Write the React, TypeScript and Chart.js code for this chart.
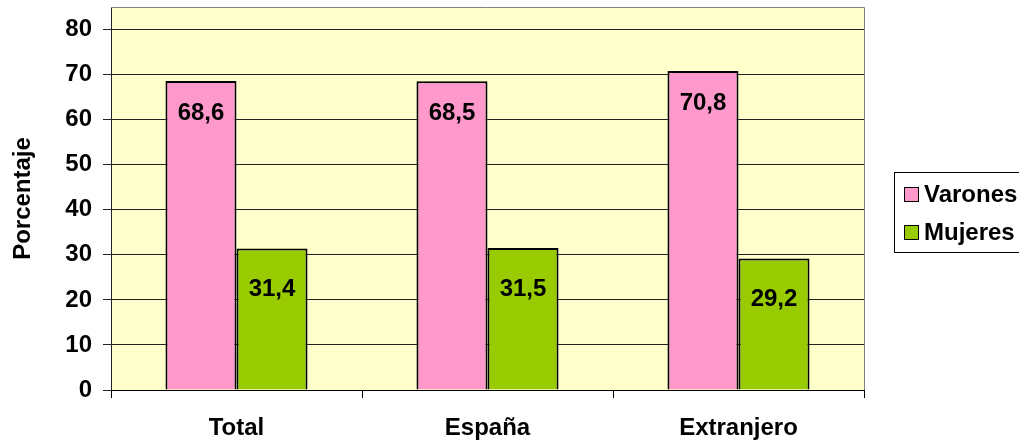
import React, { useEffect, useRef } from "react";
import { Chart, registerables } from "chart.js";

Chart.register(...registerables);

const categories = ["Total", "España", "Extranjero"];
const varones = [68.6, 68.5, 70.8];
const mujeres = [31.4, 31.5, 29.2];
const seriesNames = ["Varones", "Mujeres"];
const seriesColors = ["#FF99CC", "#99CC00"];
const yTickValues = [0, 10, 20, 30, 40, 50, 60, 70, 80];
const yAxisTitle = "Porcentaje";

const FONT = "'Liberation Sans', Arial, sans-serif";
const FS = 24;

export default function App() {
  const ref = useRef<HTMLCanvasElement | null>(null);

  useEffect(() => {
    if (!ref.current) return;

    const bgPlugin = {
      id: "bgPlugin",
      beforeDraw(chart: any) {
        const { ctx, chartArea: a } = chart;
        ctx.save();
        ctx.fillStyle = "#FFFFCC";
        ctx.fillRect(a.left, a.top, a.right - a.left, a.bottom - a.top);
        ctx.restore();
      },
      beforeDatasetsDraw(chart: any) {
        const { ctx, chartArea: a } = chart;
        ctx.save();
        ctx.strokeStyle = "#808080";
        ctx.lineWidth = 1;
        ctx.beginPath();
        ctx.moveTo(a.left, a.top + 0.5);
        ctx.lineTo(a.right + 0.5, a.top + 0.5);
        ctx.lineTo(a.right + 0.5, a.bottom);
        ctx.stroke();
        ctx.restore();
      },
    };

    const labelOffsets = [32, 41];
    const labelPlugin = {
      id: "labelPlugin",
      afterDatasetsDraw(chart: any) {
        const { ctx } = chart;
        ctx.save();
        ctx.font = `bold ${FS}px ${FONT}`;
        ctx.fillStyle = "#000";
        ctx.textAlign = "center";
        ctx.textBaseline = "middle";
        chart.data.datasets.forEach((ds: any, di: number) => {
          const meta = chart.getDatasetMeta(di);
          meta.data.forEach((el: any, i: number) => {
            const v = ds.data[i] as number;
            ctx.fillText(v.toFixed(1).replace(".", ","), el.x, el.y + labelOffsets[di]);
          });
        });
        ctx.restore();
      },
    };

    const legendPlugin = {
      id: "customLegend",
      afterDraw(chart: any) {
        const { ctx } = chart;
        ctx.save();
        ctx.strokeStyle = "#000";
        ctx.lineWidth = 1;
        ctx.strokeRect(894.5, 172.5, 140, 80);
        ctx.font = `bold ${FS}px ${FONT}`;
        ctx.textBaseline = "middle";
        ctx.textAlign = "left";
        chart.data.datasets.forEach((ds: any, di: number) => {
          const sy = 187 + di * 38;
          ctx.fillStyle = ds.backgroundColor;
          ctx.fillRect(904, sy, 15, 15);
          ctx.strokeStyle = "#000";
          ctx.strokeRect(904.5, sy + 0.5, 14, 14);
          ctx.fillStyle = "#000";
          ctx.fillText(ds.label, 924, sy + 8);
        });
        ctx.restore();
      },
    };

    const chart = new Chart(ref.current, {
      type: "bar",
      data: {
        labels: categories,
        datasets: [
          {
            label: seriesNames[0],
            data: varones,
            backgroundColor: seriesColors[0],
            borderColor: "#000",
            borderWidth: 2,
            categoryPercentage: 0.566,
            barPercentage: 1,
          },
          {
            label: seriesNames[1],
            data: mujeres,
            backgroundColor: seriesColors[1],
            borderColor: "#000",
            borderWidth: 2,
            categoryPercentage: 0.566,
            barPercentage: 1,
          },
        ],
      },
      options: {
        responsive: false,
        animation: false,
        devicePixelRatio: 1,
        layout: { padding: { top: 7, right: 155, left: 0, bottom: 0 } },
        plugins: {
          legend: { display: false },
          tooltip: { enabled: false },
        },
        scales: {
          x: {
            grid: {
              offset: true,
              drawOnChartArea: false,
              drawTicks: true,
              tickLength: 8,
              color: "#000",
            },
            border: { color: "#000", width: 1 },
            ticks: {
              color: "#000",
              font: { family: FONT, size: FS, weight: "bold" },
              padding: 16,
              maxRotation: 0,
            },
            afterFit(scale: any) {
              scale.height = 51;
              scale.paddingLeft = 0;
              scale.paddingRight = 0;
            },
          },
          y: {
            min: 0,
            max: 85,
            grid: { color: "#222", tickLength: 8, lineWidth: 1 },
            border: { color: "#222", width: 1 },
            ticks: {
              color: "#000",
              font: { family: FONT, size: FS, weight: "bold" },
              padding: 11,
            },
            afterBuildTicks(scale: any) {
              scale.ticks = yTickValues.map((v) => ({ value: v }));
            },
            title: {
              display: true,
              text: yAxisTitle,
              color: "#000",
              font: { family: FONT, size: FS, weight: "bold" },
              padding: { top: 9, bottom: 0 },
            },
            afterFit(scale: any) {
              scale.width = 111;
              scale.paddingTop = 0;
              scale.paddingBottom = 0;
            },
          },
        },
      },
      plugins: [bgPlugin, labelPlugin, legendPlugin],
    });

    return () => chart.destroy();
  }, []);

  return (
    <div style={{ position: "fixed", left: 0, top: 0, width: 1019, height: 441, background: "#fff" }}>
      <canvas ref={ref} width={1019} height={441} style={{ display: "block" }} />
    </div>
  );
}
